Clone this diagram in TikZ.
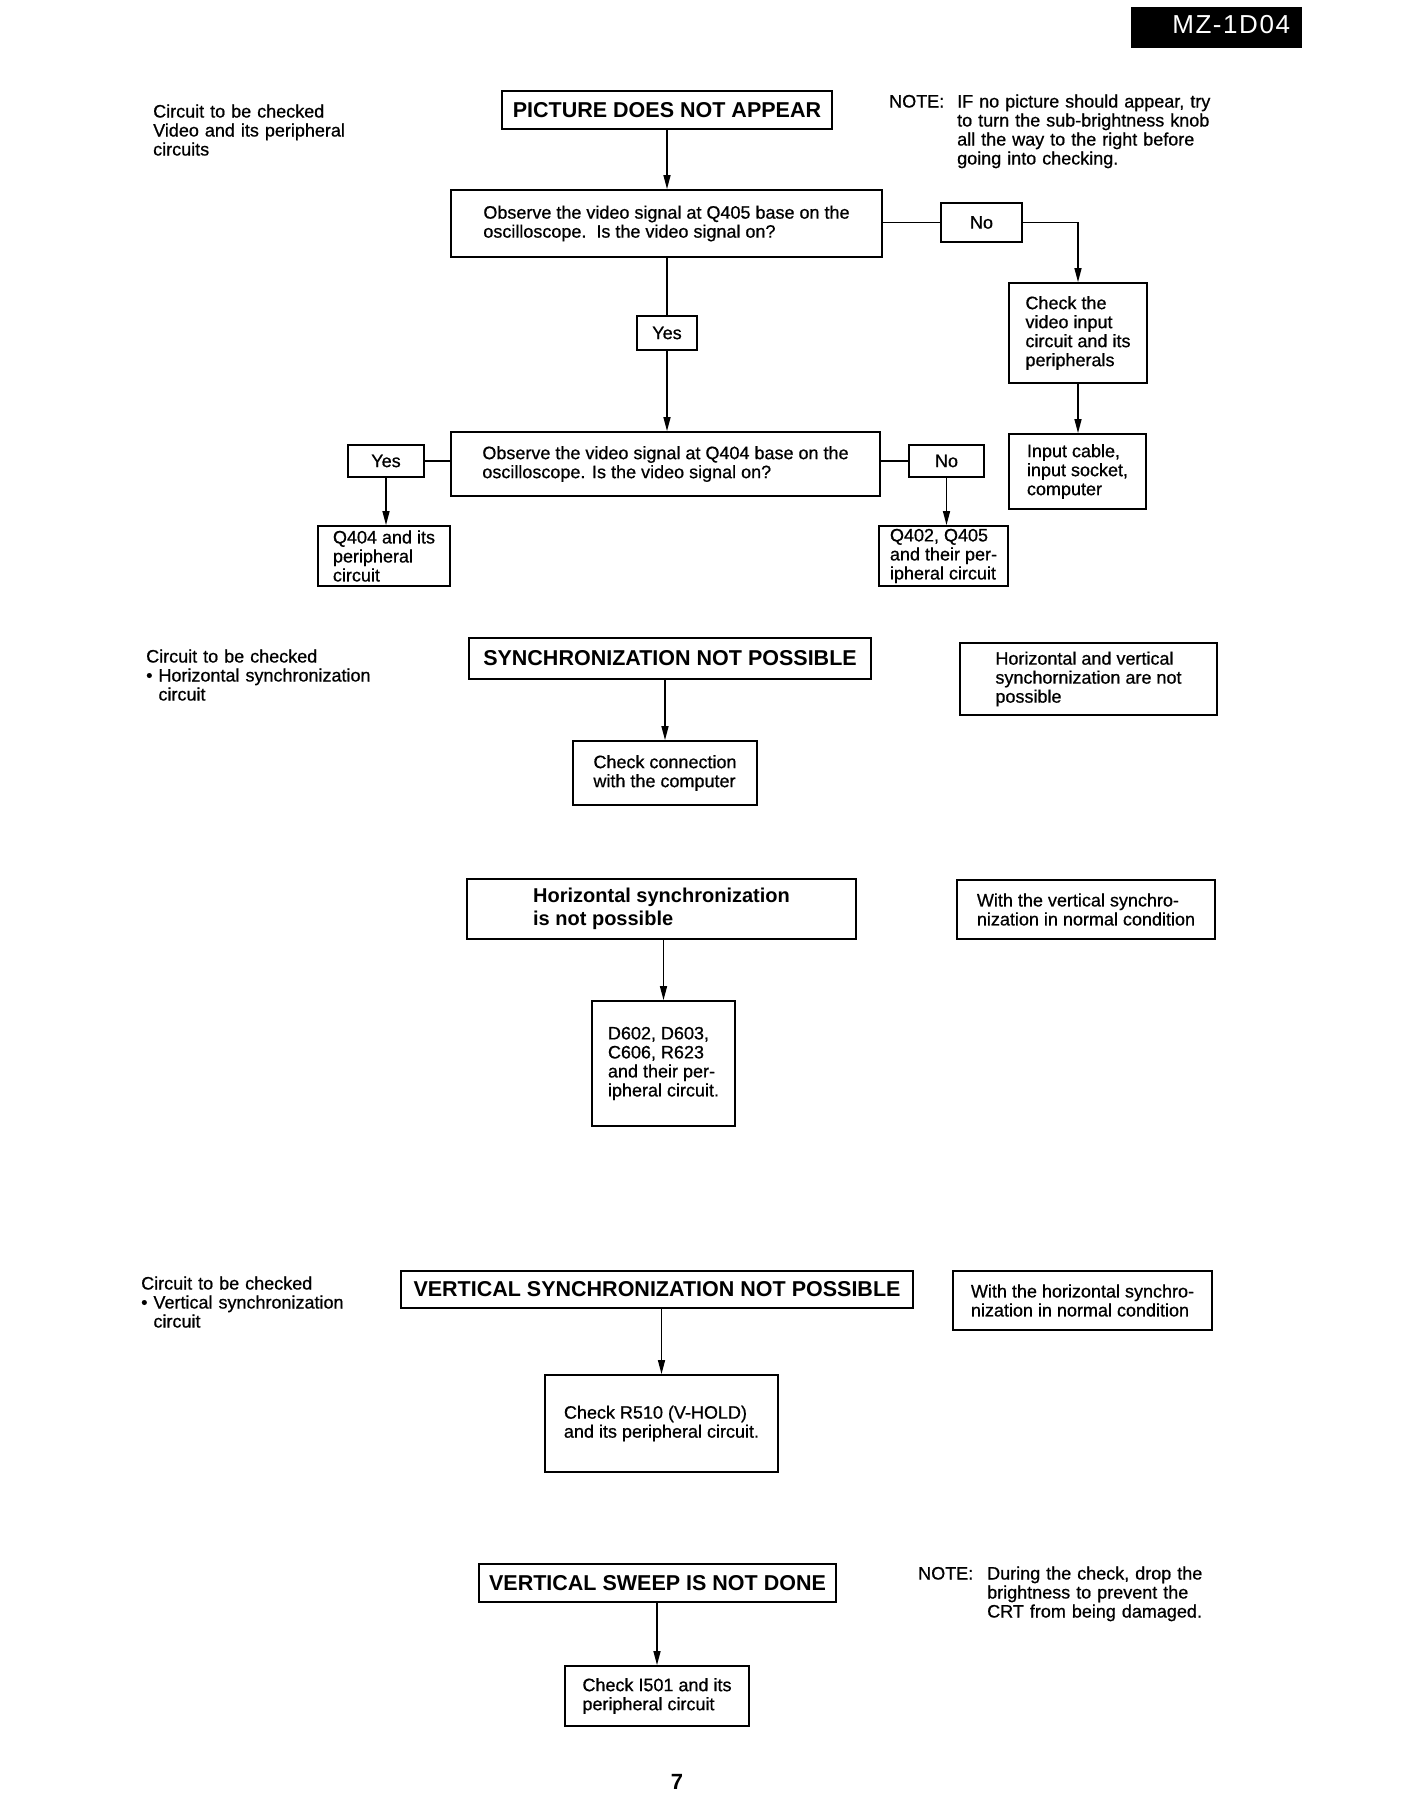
\documentclass[tikz,border=0pt]{standalone}
\usepackage{fontspec}
\setmainfont{Liberation Sans}
\newfontfamily\bodyfont[RawFeature={embolden=0.7}]{Liberation Sans}
\newfontfamily\mzfont[LetterSpace=6]{Liberation Sans}
\usetikzlibrary{arrows.meta}
\begin{document}
\begin{tikzpicture}[x=1pt,y=-1pt,
  box/.style={draw, line width=1.8pt, inner sep=0pt, font=\bodyfont\fontsize{18}{19}\selectfont, align=left},
  tbox/.style={draw, line width=1.8pt, inner sep=0pt, font=\bfseries\fontsize{21.5}{24}\selectfont, align=center},
  txt/.style={inner sep=0pt, font=\bodyfont\fontsize{18}{19}\selectfont, align=left, anchor=base west, text width=400pt},
  conn/.style={line width=1.4pt},
  arr/.style={line width=1.4pt, -{Triangle[length=14pt,width=7pt]}},
]
\useasboundingbox[fill=white] (0,0) rectangle (1400,1812);

% header tag
\node[fill=black, minimum width=171pt, minimum height=41pt, inner sep=0pt, text=white,
      text width=147pt, align=right, text depth=7pt,
      font=\mzfont\fontsize{26}{26}\selectfont] (mz) at (1216.5,27.5) {MZ-1D04};

% ---------- Section 1 ----------
\node[txt] (lab1) at (153,117.5) {Circuit to be checked\\Video and its peripheral\\circuits};
\node[tbox, minimum width=330pt, minimum height=38pt] (t1) at (667,110) {PICTURE DOES NOT APPEAR};
\node[txt, text width=60pt] (n1h) at (889,107.5) {NOTE:};
\node[txt] (n1t) at (957,107.5) {IF no picture should appear, try\\to turn the sub-brightness knob\\all the way to the right before\\going into checking.};

\node[box, minimum width=431pt, minimum height=67pt] (q405) at (666.5,223.5)
  {Observe the video signal at Q405 base on the\\oscilloscope.\ \ Is the video signal on?};
\node[box, minimum width=81pt, minimum height=39pt] (no1) at (981.5,222.5) {No};
\node[box, minimum width=138pt, minimum height=100pt] (check) at (1078,333)
  {Check the\\video input\\circuit and its\\peripherals};
\node[box, minimum width=137pt, minimum height=75pt] (input) at (1077.5,471.5)
  {Input cable,\\input socket,\\computer};
\node[box, minimum width=60pt, minimum height=34pt] (yes1) at (667,333) {Yes};
\node[box, minimum width=429pt, minimum height=64pt] (q404) at (665.5,464)
  {Observe the video signal at Q404 base on the\\oscilloscope. Is the video signal on?};
\node[box, minimum width=76pt, minimum height=32pt] (yes2) at (386,461) {Yes};
\node[box, minimum width=75pt, minimum height=32pt] (no2) at (946.5,461) {No};
\node[box, minimum width=132pt, minimum height=60pt] (q404p) at (384,556)
  {Q404 and its\\peripheral\\circuit};
\node[box, minimum width=129pt, minimum height=60pt] (q402) at (943.5,556)
  {Q402, Q405\\and their per-\\ipheral circuit};

\draw[arr] (t1.south) -- (t1.south |- q405.north);
\draw[conn] (no1.west -| q405.east) -- (no1.west);
\draw[arr] (no1.east) -| (check.north);
\draw[arr] (check.south) -- (check.south |- input.north);
\draw[conn] (q405.south -| yes1.north) -- (yes1.north);
\draw[arr] (yes1.south) -- (yes1.south |- q404.north);
\draw[conn] (yes2.east) -- (yes2.east -| q404.west);
\draw[conn] (no2.west) -- (no2.west -| q404.east);
\draw[arr] (yes2.south) -- (yes2.south |- q404p.north);
\draw[arr] (no2.south) -- (no2.south |- q402.north);

% ---------- Section 2 ----------
\node[txt] (lab2) at (146,662.5) {Circuit to be checked\\•\ Horizontal synchronization\\\phantom{•\ }circuit};
\node[tbox, minimum width=402pt, minimum height=41pt] (t2) at (670,658.5) {SYNCHRONIZATION NOT POSSIBLE};
\node[box, minimum width=184pt, minimum height=64pt] (conn) at (665,773)
  {Check connection\\with the computer};
\node[box, minimum width=257pt, minimum height=72pt] (hv) at (1088.5,679)
  {Horizontal and vertical\\synchornization are not\\possible};
\draw[arr] (conn.north |- t2.south) -- (conn.north);

% ---------- Section 3 ----------
\node[box, minimum width=389pt, minimum height=60pt, font=\bfseries\fontsize{20}{23}\selectfont] (hs) at (661.5,909)
  {Horizontal synchronization\\is not possible};
\node[box, minimum width=258pt, minimum height=59pt] (wv) at (1086,909.5)
  {With the vertical synchro-\\nization in normal condition};
\node[box, minimum width=143pt, minimum height=125pt] (d602) at (663.5,1063.5)
  {D602, D603,\\C606, R623\\and their per-\\ipheral circuit.};
\draw[arr] (d602.north |- hs.south) -- (d602.north);

% ---------- Section 4 ----------
\node[txt] (lab3) at (141,1289.5) {Circuit to be checked\\•\ Vertical synchronization\\\phantom{•\ }circuit};
\node[tbox, minimum width=512pt, minimum height=37pt] (t4) at (657,1289.5) {VERTICAL SYNCHRONIZATION NOT POSSIBLE};
\node[box, minimum width=259pt, minimum height=59pt] (wh) at (1082.5,1300.5)
  {With the horizontal synchro-\\nization in normal condition};
\node[box, minimum width=233pt, minimum height=97pt] (r510) at (661.5,1423.5)
  {Check R510 (V-HOLD)\\and its peripheral circuit.};
\draw[arr] (r510.north |- t4.south) -- (r510.north);

% ---------- Section 5 ----------
\node[tbox, minimum width=357pt, minimum height=38pt] (t5) at (657.5,1583) {VERTICAL SWEEP IS NOT DONE};
\node[txt, text width=60pt] (n2h) at (918,1579.5) {NOTE:};
\node[txt] (n2t) at (987,1579.5) {During the check, drop the\\brightness to prevent the\\CRT from being damaged.};
\node[box, minimum width=184pt, minimum height=60pt] (i501) at (657,1696)
  {Check I501 and its\\peripheral circuit};
\draw[arr] (i501.north |- t5.south) -- (i501.north);

\node[inner sep=0pt, font=\bfseries\fontsize{22}{22}\selectfont] (page) at (677,1782) {7};
\end{tikzpicture}
\end{document}
